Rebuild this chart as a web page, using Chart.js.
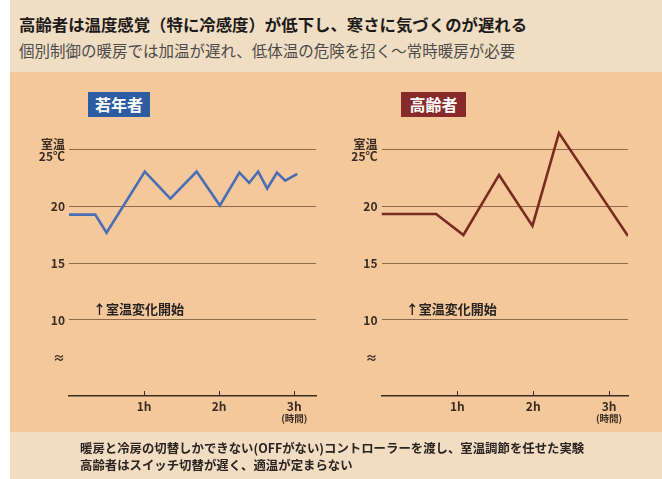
<!DOCTYPE html>
<html>
<head>
<meta charset="utf-8">
<script src="https://cdn.jsdelivr.net/npm/chart.js@4"></script>
<style>
  body { margin: 0; width: 662px; height: 479px; background: #ffffff; position: relative; overflow: hidden;
         font-family: 'Noto Sans CJK JP', sans-serif; }
  .band { position: absolute; left: 10px; width: 652px; }
  #top { top: 0; height: 72px; background: #f0dec4; }
  #panel { top: 72px; height: 360px; background: #f4c89b; }
  #bottom { top: 432px; height: 47px; background: #f2dcc2; }
  .txt { position: absolute; white-space: nowrap; }
  #title { left: 19px; top: 12px; font-size: 16.4px; font-weight: bold; color: #1e1a18; }
  #subtitle { left: 19px; top: 39px; font-size: 15.5px; color: #4e4a48; }
  .badge { position: absolute; color: #fff; font-weight: bold; font-size: 16px; line-height: 25px; text-align: center; }
  #badgeYoung { left: 88px; top: 92px; width: 62px; background: #2e5ca3; }
  #badgeOld { left: 401px; top: 92px; width: 65px; background: #88292a; }
  #note { left: 80px; top: 440px; font-size: 12.4px; line-height: 17px; color: #2a2420; font-weight: bold; }
  canvas { position: absolute; }
</style>
</head>
<body>
<div class="band" id="top"></div>
<div class="band" id="panel"></div>
<div class="band" id="bottom"></div>
<div class="txt" id="title">高齢者は温度感覚（特に冷感度）が低下し、寒さに気づくのが遅れる</div>
<div class="txt" id="subtitle">個別制御の暖房では加温が遅れ、低体温の危険を招く〜常時暖房が必要</div>
<div class="badge" id="badgeYoung">若年者</div>
<div class="badge" id="badgeOld">高齢者</div>
<div style="position:absolute;left:0;top:100px;width:331px;height:340px"><canvas id="young"></canvas></div>
<div style="position:absolute;left:331px;top:100px;width:331px;height:340px"><canvas id="old"></canvas></div>
<div class="txt" id="note">暖房と冷房の切替しかできない(OFFがない)コントローラーを渡し、室温調節を任せた実験<br>高齢者はスイッチ切替が遅く、適温が定まらない</div>
<script>
// room temperature (℃) against elapsed time (hours)
const youngHours = [0, 0.35, 0.5, 1.01, 1.35, 1.7, 2.01, 2.27, 2.4, 2.52, 2.64, 2.77, 2.88, 3.04];
const youngTemps = [19.3, 19.3, 17.7, 23.1, 20.7, 23.1, 20.1, 23.0, 22.1, 23.1, 21.6, 23.0, 22.3, 22.9];
const oldHours = [0, 0.72, 1.08, 1.55, 1.99, 2.34, 3.25];
const oldTemps = [19.35, 19.35, 17.5, 22.8, 18.3, 26.5, 17.4];

const yTickValues = [6.6, 10, 15, 20, 25];
const breakValue = 6.6;
const hourTicks = [1, 2, 3];
const hourLabels = ['1h', '2h', '3h'];
const unitLabel = '(時間)';
const noteText = '↑室温変化開始';
const noteHour = 0.32;
const noteTemp = 11;

const gridColor = '#8c6a48';
const axisColor = '#3e2a1c';
const labelColor = '#3a2c22';

Chart.defaults.font.family = "'Noto Sans CJK JP', sans-serif";

const extras = {
  id: 'extras',
  afterDraw(chart) {
    const { ctx, scales: { x, y } } = chart;
    ctx.save();
    // small tick marks crossing the time axis
    ctx.strokeStyle = axisColor;
    ctx.lineWidth = 1;
    hourTicks.forEach(h => {
      const px = Math.round(x.getPixelForValue(h)) + 0.5;
      ctx.beginPath();
      ctx.moveTo(px, y.bottom - 5);
      ctx.lineTo(px, y.bottom);
      ctx.stroke();
    });
    // unit under the last hour label
    ctx.fillStyle = labelColor;
    ctx.font = "bold 9.5px 'Noto Sans CJK JP'";
    ctx.textAlign = 'center';
    ctx.textBaseline = 'top';
    ctx.fillText(unitLabel, x.getPixelForValue(hourTicks[hourTicks.length - 1]), y.bottom + 18);
    ctx.fillStyle = '#262220';
    ctx.font = "bold 13px 'Noto Sans CJK JP'";
    ctx.textAlign = 'left';
    ctx.textBaseline = 'middle';
    ctx.fillText(noteText, x.getPixelForValue(noteHour), y.getPixelForValue(noteTemp));
    ctx.restore();
  }
};

function makeChart(id, hours, temps, color, xMax, leftWidth, rightPad) {
  return new Chart(document.getElementById(id), {
    type: 'line',
    data: {
      datasets: [{
        data: hours.map((h, i) => ({ x: h, y: temps[i] })),
        borderColor: color,
        borderWidth: 2.6,
        pointRadius: 0,
        tension: 0
      }]
    },
    options: {
      responsive: true,
      maintainAspectRatio: false,
      animation: false,
      layout: { padding: { top: 12.6, right: rightPad, bottom: 0, left: 0 } },
      plugins: { legend: { display: false }, tooltip: { enabled: false } },
      scales: {
        x: {
          type: 'linear', min: 0, max: xMax,
          afterBuildTicks: s => { s.ticks = hourTicks.map(v => ({ value: v })); },
          afterFit: s => { s.height = 44; },
          border: { color: axisColor, width: 1.6 },
          grid: { drawOnChartArea: false, drawTicks: false },
          ticks: {
            maxRotation: 0, padding: 4, color: labelColor,
            font: { size: 12, weight: 'bold', lineHeight: 1.05 },
            callback: (v, i) => hourLabels[i]
          }
        },
        y: {
          min: 3.29, max: 28,
          afterBuildTicks: s => { s.ticks = yTickValues.map(v => ({ value: v })); },
          afterFit: s => { s.width = leftWidth; },
          border: { display: false },
          grid: {
            drawTicks: false, lineWidth: 1,
            color: c => (c.tick && c.tick.value === breakValue) ? 'rgba(0,0,0,0)' : gridColor
          },
          ticks: {
            padding: 4, color: labelColor,
            font: { size: 12, weight: 'bold', lineHeight: 1.0 },
            callback: v => v === 25 ? ['室温', '25℃'] : (v === breakValue ? '≈' : String(v))
          }
        }
      }
    },
    plugins: [extras]
  });
}

makeChart('young', youngHours, youngTemps, '#4a6db3', 3.29, 69, 15);
makeChart('old', oldHours, oldTemps, '#7a2a20', 3.25, 50.5, 34);
</script>
</body>
</html>
